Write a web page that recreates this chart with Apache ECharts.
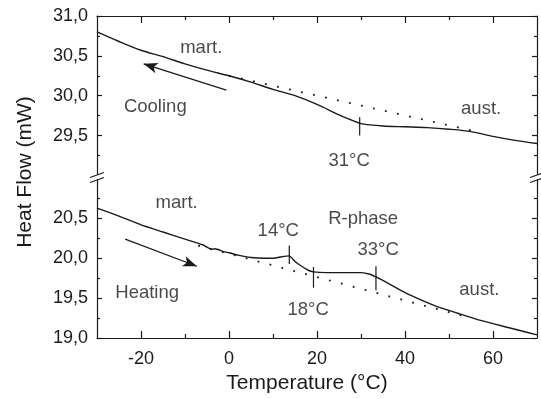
<!DOCTYPE html>
<html>
<head>
<meta charset="utf-8">
<script src="https://cdn.jsdelivr.net/npm/echarts@6/dist/echarts.min.js"></script>
<style>
html,body{margin:0;padding:0;background:#fff;}
#chart{width:541px;height:399px;}
</style>
</head>
<body>
<div id="chart"></div>
<script>
// ---- data ----
const coolT  = [-30, -25, -20, -15, -10, -5, 0, 5, 10, 15, 20, 25, 28, 30, 35, 40, 45, 50, 55, 60, 65, 70];
const coolHF = [30.80, 30.68, 30.57, 30.49, 30.40, 30.32, 30.25, 30.17, 30.08, 30.00, 29.89, 29.76, 29.69, 29.65, 29.62, 29.61, 29.60, 29.58, 29.55, 29.49, 29.44, 29.40];

const heatT  = [-30, -25, -20, -15, -10, -6, -4.5, -4, -3.3, -2.5, -1, 0, 2, 5, 8, 10, 12, 13.7, 15, 16.5, 18, 19.2, 22, 26, 30, 32, 34, 37, 40, 44, 48, 52, 56, 60, 65, 70];
const heatHF = [20.63, 20.53, 20.42, 20.33, 20.24, 20.17, 20.125, 20.11, 20.12, 20.11, 20.08, 20.07, 20.04, 20.01, 20.00, 20.00, 20.02, 20.03, 19.96, 19.90, 19.85, 19.83, 19.82, 19.82, 19.82, 19.80, 19.75, 19.66, 19.57, 19.47, 19.38, 19.31, 19.24, 19.18, 19.11, 19.04];

const coolBaseT = [0, 57];
const coolBaseHF = [30.25, 29.54];
const heatBaseT = [-7, 53];
const heatBaseHF = [20.16, 19.28];

const transT  = [29.7, 13.7, 19.2, 33.4];
const transLo = [29.50, 19.93, 19.63, 19.60];
const transHi = [29.73, 20.16, 19.89, 19.90];

const noteText = ['mart.', 'aust.', 'Cooling', '31°C', 'mart.', '14°C', 'R-phase', '33°C', '18°C', 'aust.', 'Heating'];
const noteT    = [-6.3, 57.3, -16.75, 27.3, -11.9, 11.2, 30.5, 33.9, 18.0, 56.9, -18.6];
const noteHF   = [30.60, 29.84, 29.86, 29.18, 20.69, 20.34, 20.50, 20.10, 19.35, 19.60, 19.56];

const arrowFromT  = [-0.6, -23.6];
const arrowFromHF = [30.07, 20.24];
const arrowToT    = [-19.4, -7.3];
const arrowToHF   = [30.40, 19.90];

const xTickLabels = [-20, 0, 20, 40, 60];
const xMinorTicks = [-10, 10, 30, 50];
const yTickLabels = [19.0, 19.5, 20.0, 20.5, 29.5, 30.0, 30.5, 31.0];
const yMinorTicks = [19.25, 19.75, 20.25, 20.75, 29.25, 29.75, 30.25, 30.75];

// ---- broken axis mapping ----
const OFFSET = 7.96;             // removed span between 21.0 and ~29.0
const BREAK = 21.02;
function tr(v) { return v > 25 ? +(v - OFFSET).toFixed(4) : v; }
function inv(v) { return v > BREAK ? v + OFFSET : v; }

const FONT = '"Liberation Sans", Arial, Helvetica, sans-serif';
const INK = '#1a1a1a';

const chart = echarts.init(document.getElementById('chart'), null, {renderer: 'canvas'});

function xAx(pos, ticks, len, showLine, labels) {
  return {
    type: 'value', position: pos, min: -30, max: 70,
    axisLine: {show: showLine, onZero: false, lineStyle: {color: INK, width: 1.2}},
    axisTick: {show: true, inside: true, length: len, customValues: ticks, lineStyle: {color: INK, width: 1.2}},
    axisLabel: labels ? {show: true, customValues: labels, color: INK, fontSize: 18, fontFamily: FONT, margin: 12} : {show: false},
    splitLine: {show: false}
  };
}
function yAx(pos, ticks, len, showLine, labels) {
  return {
    type: 'value', position: pos, min: 19, max: tr(31),
    axisLine: {show: showLine, onZero: false, lineStyle: {color: INK, width: 1.2}},
    axisTick: {show: true, inside: true, length: len, customValues: ticks.map(tr), lineStyle: {color: INK, width: 1.2}},
    axisLabel: labels ? {
      show: true, customValues: labels.map(tr), color: INK, fontSize: 18, fontFamily: FONT, margin: 9,
      formatter: v => inv(v).toFixed(1).replace('.', ',')
    } : {show: false},
    splitLine: {show: false}
  };
}

const xAxes = [
  Object.assign(xAx('bottom', xTickLabels, 7, true, xTickLabels), {
    name: 'Temperature (°C)', nameLocation: 'middle', nameGap: 35,
    nameTextStyle: {color: INK, fontSize: 21, fontFamily: FONT, padding: [0, 20, 0, 0]}
  }),
  xAx('bottom', xMinorTicks, 4, false, null),
  xAx('top', xTickLabels, 7, true, null),
  xAx('top', xMinorTicks, 4, false, null)
];
const yAxes = [
  Object.assign(yAx('left', yTickLabels, 5, true, yTickLabels), {
    name: 'Heat Flow (mW)', nameLocation: 'middle', nameGap: 61, nameRotate: 90,
    nameTextStyle: {color: INK, fontSize: 21, fontFamily: FONT, padding: [0, 0, 0, 10]}
  }),
  yAx('left', yMinorTicks, 3, false, null),
  yAx('right', yTickLabels, 5, true, null),
  yAx('right', yMinorTicks, 3, false, null)
];

const series = [];
series.push({
  type: 'line', name: 'cooling', data: coolT.map((t, i) => [t, tr(coolHF[i])]),
  showSymbol: false, smooth: 0.3, lineStyle: {color: INK, width: 1.4}, z: 5
});
series.push({
  type: 'line', name: 'heating', data: heatT.map((t, i) => [t, tr(heatHF[i])]),
  showSymbol: false, smooth: 0.15, lineStyle: {color: INK, width: 1.4}, z: 5
});
series.push({
  type: 'line', name: 'coolBase', data: coolBaseT.map((t, i) => [t, tr(coolBaseHF[i])]),
  showSymbol: false, lineStyle: {color: INK, width: 1.8, type: [1.8, 10.5]}
});
series.push({
  type: 'line', name: 'heatBase', data: heatBaseT.map((t, i) => [t, tr(heatBaseHF[i])]),
  showSymbol: false, lineStyle: {color: INK, width: 1.8, type: [1.8, 10.5]}
});
transT.forEach((t, i) => {
  series.push({
    type: 'line', name: 'trans' + i, data: [[t, tr(transLo[i])], [t, tr(transHi[i])]],
    showSymbol: false, lineStyle: {color: INK, width: 1.2}, z: 6
  });
});
series.push({
  type: 'scatter', name: 'notes', symbolSize: 1, itemStyle: {color: 'transparent'},
  data: noteText.map((s, i) => ({name: s, value: [noteT[i], tr(noteHF[i])]})),
  label: {show: true, position: 'inside', formatter: '{b}', color: INK, fontSize: 18.5, fontFamily: FONT},
  silent: true, z: 7
});
series.push({
  type: 'line', name: 'arrows', data: [], showSymbol: false,
  markLine: {
    silent: true, symbol: ['none', 'arrow'], symbolSize: [8, 14],
    lineStyle: {color: INK, width: 1.2, type: 'solid'}, label: {show: false},
    data: arrowFromT.map((t, i) => [
      {coord: [t, tr(arrowFromHF[i])]},
      {coord: [arrowToT[i], tr(arrowToHF[i])]}
    ])
  }
});

chart.setOption({
  animation: false,
  backgroundColor: '#fff',
  grid: {left: 97, top: 16, width: 440, height: 326, containLabel: false},
  xAxis: xAxes,
  yAxis: yAxes,
  series: series
});

// ---- axis-break marks on both vertical axes ----
const yb = chart.convertToPixel({yAxisIndex: 0}, BREAK);
const xl = chart.convertToPixel({xAxisIndex: 0}, -30);
const xr = chart.convertToPixel({xAxisIndex: 0}, 70);
const els = [];
[xl, xr].forEach(x => {
  els.push({type: 'rect', shape: {x: x - 3, y: yb - 2.5, width: 6, height: 5}, style: {fill: '#fff'}, z: 100});
  els.push({type: 'line', shape: {x1: x - 7, y1: yb + 0.5, x2: x + 7, y2: yb - 4.5}, style: {stroke: INK, lineWidth: 1.2}, z: 101});
  els.push({type: 'line', shape: {x1: x - 7, y1: yb + 5.5, x2: x + 7, y2: yb + 0.5}, style: {stroke: INK, lineWidth: 1.2}, z: 101});
});
chart.setOption({graphic: {elements: els}});
</script>
</body>
</html>
